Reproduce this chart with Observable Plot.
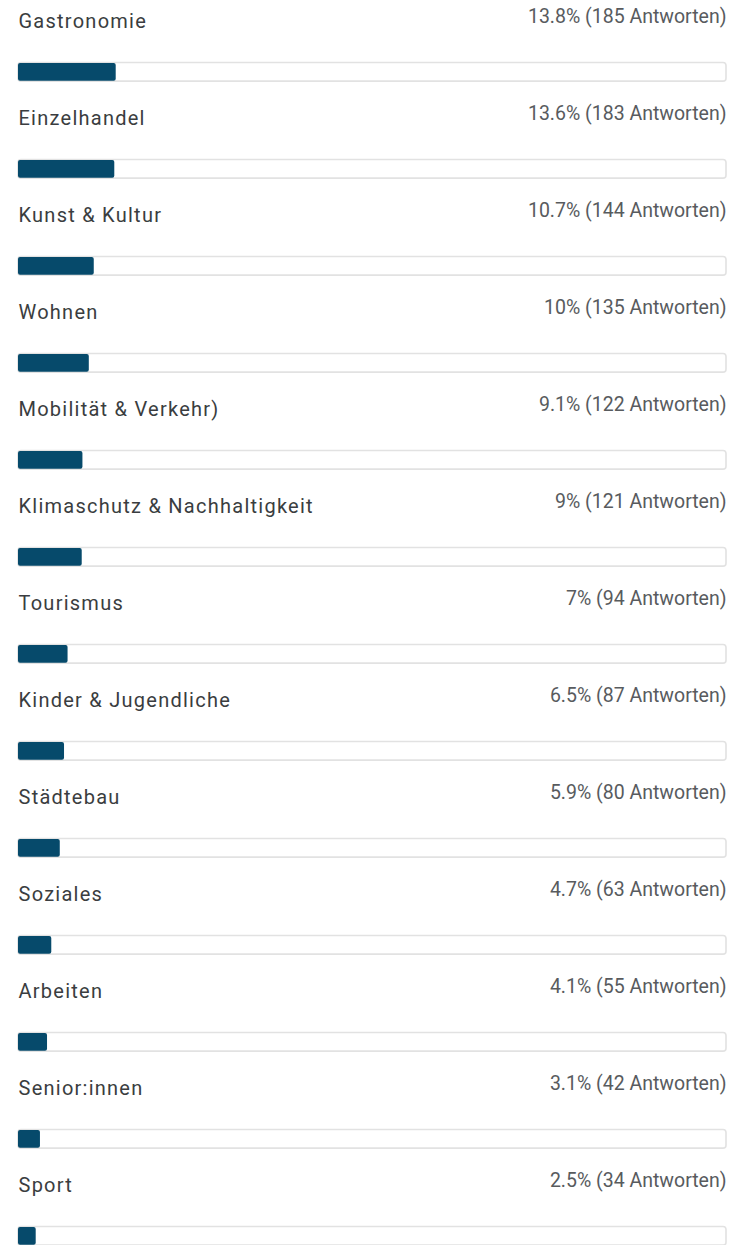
<!DOCTYPE html>
<html>
<head>
<meta charset="utf-8">
<script src="https://cdn.jsdelivr.net/npm/d3@7"></script>
<script src="https://cdn.jsdelivr.net/npm/@observablehq/plot@0.6"></script>
<style>
  html, body { margin: 0; padding: 0; background: #fff; overflow: hidden; }
</style>
</head>
<body>
<div id="chart"></div>
<script>
const categories = ["Gastronomie", "Einzelhandel", "Kunst & Kultur", "Wohnen", "Mobilität & Verkehr)", "Klimaschutz & Nachhaltigkeit", "Tourismus", "Kinder & Jugendliche", "Städtebau", "Soziales", "Arbeiten", "Senior:innen", "Sport"];
const percents = [13.8, 13.6, 10.7, 10, 9.1, 9, 7, 6.5, 5.9, 4.7, 4.1, 3.1, 2.5];
const answers = [185, 183, 144, 135, 122, 121, 94, 87, 80, 63, 55, 42, 34];

const data = categories.map((c, i) => ({
  category: c,
  pct: percents[i],
  n: answers[i],
  label: `${percents[i]}% (${answers[i]} Antworten)`
}));

const rowH = 97.35;
const chart = Plot.plot({
  width: 730,
  height: 1245,
  marginLeft: 18,
  marginRight: 4,
  marginTop: 0,
  marginBottom: 0,
  x: {domain: [0, 100], axis: null},
  y: {domain: categories, range: [0, rowH * categories.length], axis: null, padding: 0},
  style: {fontFamily: "Roboto, sans-serif", background: "#fff"},
  marks: [
    Plot.barX(data, {x1: 0, x2: 100, y: "category", insetTop: 60.5, insetBottom: rowH - 79.5, fill: "#fff", stroke: "#e2e2e2", strokeWidth: 1.6, rx: 3}),
    Plot.barX(data, {x1: 0, x2: "pct", y: "category", insetTop: 61, insetBottom: rowH - 79, fill: "#064a6b", rx: 2}),
    Plot.text(data, {x: 0, y: "category", text: "category", textAnchor: "start", dy: 19.6 - rowH / 2, fontSize: 20, fill: "#3a3d40"}),
    Plot.text(data, {x: 100, y: "category", text: "label", textAnchor: "end", dy: 14.5 - rowH / 2, fontSize: 19.5, fill: "#585b5e"})
  ]
});
const textGroups = chart.querySelectorAll('g[aria-label="text"]');
if (textGroups[0]) textGroups[0].setAttribute("letter-spacing", "1.25px");
document.getElementById("chart").appendChild(chart);
</script>
</body>
</html>
